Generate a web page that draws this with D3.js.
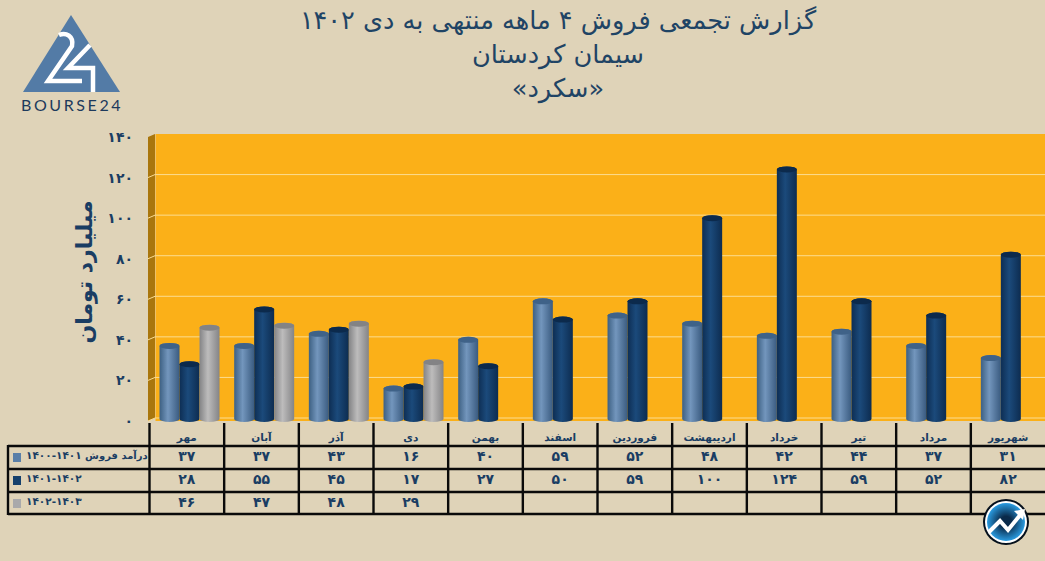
<!DOCTYPE html>
<html lang="fa">

<head>
    <meta charset="UTF-8">
    <title>Sales</title>
    <script src="https://d3js.org/d3.v7.min.js"></script>
    <style>
        html, body { margin: 0; padding: 0; background: #dfd3b8; overflow: hidden; }
        svg { display: block; }
        text { font-family: "DejaVu Sans", sans-serif; fill: #1a3d63; }
        .title { font-size: 25.6px; text-anchor: middle; fill: #1f4465; }
        .cell { font-size: 14px; font-weight: bold; text-anchor: middle; }
        .month { font-size: 10.5px; font-weight: bold; text-anchor: middle; }
        .tick text { font-size: 14px; font-weight: bold; font-family: "DejaVu Sans", sans-serif; fill: #1a3d63; }
    </style>
</head>

<body>
    <script>
        var months = ["مهر", "آبان", "آذر", "دی", "بهمن", "اسفند", "فروردین", "اردیبهشت", "خرداد", "تیر", "مرداد", "شهریور"];
        var sales1 = [37, 37, 43, 16, 40, 59, 52, 48, 42, 44, 37, 31];
        var sales2 = [28, 55, 45, 17, 27, 50, 59, 100, 124, 59, 52, 82];
        var sales3 = [46, 47, 48, 29, null, null, null, null, null, null, null, null];
        var seriesPrefix = ["درآمد فروش ", "", ""];
        var seriesLabels = ["۱۴۰۱-۱۴۰۰", "۱۴۰۱-۱۴۰۲", "۱۴۰۲-۱۴۰۳"];
        var titleLines = ["گزارش تجمعی فروش ۴ ماهه منتهی به دی ۱۴۰۲", "سیمان کردستان", "«سکرد»"];
        var yTicks = [0, 20, 40, 60, 80, 100, 120, 140];

        var allSeries = [sales1, sales2, sales3];
        var legendColors = ["#5a7fa8", "#15406c", "#a9a9ab"];
        var gradStops = [
            ["#436689", "#7396bd", "#3a5b80"],
            ["#0f3158", "#1b4a7b", "#0d2c50"],
            ["#8a8a8c", "#bdbcbc", "#848486"]
        ];
        var topColors = ["#3f6288", "#0c2a4c", "#838385"];

        function fa(v) {
            return String(v).replace(/\d/g, function(d) { return "۰۱۲۳۴۵۶۷۸۹"[d]; });
        }

        var svg = d3.select("body").append("svg").attr("width", 1045).attr("height", 561);
        var defs = svg.append("defs");

        // depth of the fake 3d box
        var depthX = 7, depthY = 3;

        var x = d3.scaleBand().domain(months).range([149.5, 1045.5]);
        var y = d3.scaleLinear().domain([0, 140]).range([418, 134]);
        var slot = d3.scaleBand().domain([0, 1, 2]).range([10, 70]);

        // title
        svg.append("g").selectAll("text").data(titleLines).enter().append("text")
            .attr("class", "title")
            .attr("x", 558)
            .attr("y", function(d, i) { return 29 + i * 34; })
            .text(function(d) { return d; });

        // back wall, side wall, floor
        svg.append("rect").attr("x", x.range()[0] + depthX - 1).attr("y", y(140))
            .attr("width", 1045 - x.range()[0]).attr("height", y(0) - y(140) + depthY)
            .style("fill", "#fbb018");
        svg.append("path")
            .attr("d", "M148," + (y(140) + depthY) + "L155," + y(140) + "V" + y(0) + "L148," + (y(0) + depthY) + "Z")
            .style("fill", "#a9760d");

        // grid lines on the walls
        var grid = svg.append("g").selectAll("path").data(yTicks.slice(0, -1)).enter().append("path")
            .attr("d", function(d) {
                return "M148," + (y(d) + depthY) + "L155," + y(d) + "H1045";
            })
            .style("fill", "none").style("stroke", "#fbdc90").style("stroke-width", 1);

        // y axis
        var yAxis = d3.axisLeft(y).tickValues(yTicks).tickSize(0).tickFormat(fa);
        svg.append("g").attr("transform", "translate(136," + depthY + ")").call(yAxis)
            .call(function(g) { g.select(".domain").remove(); });

        svg.append("text")
            .attr("transform", "translate(92,272) rotate(-90)")
            .attr("text-anchor", "middle")
            .style("font-size", "22px").style("font-weight", "bold")
            .text("میلیارد تومان");

        // cylinders
        allSeries.forEach(function(values, s) {
            var grad = defs.append("linearGradient").attr("id", "cyl" + s);
            gradStops[s].forEach(function(c, i) {
                grad.append("stop").attr("offset", ["5%", "42%", "100%"][i]).attr("stop-color", c);
            });
            var g = svg.append("g");
            var bars = values.map(function(v, i) { return { v: v, m: months[i] }; })
                .filter(function(d) { return d.v !== null; });
            var w = slot.bandwidth();
            g.selectAll("path").data(bars).enter().append("path")
                .attr("d", function(d) {
                    var left = x(d.m) + slot(s), top = y(d.v) + depthY, bottom = y(0) + depthY - 2;
                    return "M" + left + "," + top + "A" + (w / 2) + ",3 0 0 1 " + (left + w) + "," + top +
                        "V" + bottom + "A" + (w / 2) + ",3 0 0 1 " + left + "," + bottom + "Z";
                })
                .style("fill", "url(#cyl" + s + ")");
            g.selectAll("ellipse").data(bars).enter().append("ellipse")
                .attr("cx", function(d) { return x(d.m) + slot(s) + w / 2; })
                .attr("cy", function(d) { return y(d.v) + depthY; })
                .attr("rx", w / 2).attr("ry", 3)
                .style("fill", topColors[s]);
        });

        // table
        var rowLines = [446, 469, 492, 514];
        var table = svg.append("g");
        table.selectAll("line.h").data(rowLines).enter().append("line")
            .attr("x1", 8).attr("x2", 1045)
            .attr("y1", function(d) { return d; }).attr("y2", function(d) { return d; });
        table.selectAll("line.v").data(months).enter().append("line")
            .attr("x1", function(d) { return x(d); }).attr("x2", function(d) { return x(d); })
            .attr("y1", 423).attr("y2", 514);
        table.append("line").attr("x1", 8).attr("x2", 8).attr("y1", 445).attr("y2", 515);
        table.selectAll("line").style("stroke", "#0a0a0a").style("stroke-width", 2.4);

        svg.append("g").selectAll("text").data(months).enter().append("text")
            .attr("class", "month")
            .attr("x", function(d) { return x(d) + x.bandwidth() / 2; })
            .attr("y", 441)
            .text(function(d) { return d; });

        allSeries.forEach(function(values, s) {
            var rowY = rowLines[s] + 15;
            svg.append("g").selectAll("text").data(values).enter().append("text")
                .attr("class", "cell")
                .attr("x", function(d, i) { return x(months[i]) + x.bandwidth() / 2; })
                .attr("y", rowY)
                .text(function(d) { return d === null ? "" : fa(d); });

            svg.append("rect").attr("x", 13).attr("y", rowLines[s] + 7)
                .attr("width", 8).attr("height", 9).style("fill", legendColors[s]);
            var label = svg.append("text").attr("x", 26).attr("y", rowLines[s] + 13)
                .style("font-weight", "bold");
            label.append("tspan").style("font-size", "10px").text(seriesPrefix[s]);
            label.append("tspan").style("font-size", "10.5px").text(seriesLabels[s]);
        });

        // logo
        var logo = svg.append("g");
        logo.append("path").attr("d", "M71,15L120,92H23Z").style("fill", "#537ba6");
        logo.append("path")
            .attr("d", "M59,35C66,32 74,36 72,46L48,81H82M90,45L68,68H93V92")
            .style("fill", "none").style("stroke", "#fff").style("stroke-width", 4.5);
        logo.append("text").attr("x", 21).attr("y", 111)
            .style("font-family", "Lato").style("font-size", "16px").style("letter-spacing", "2.6px")
            .style("fill", "#1d3a5c").text("BOURSE24");

        // badge
        var badgeGrad = defs.append("radialGradient").attr("id", "badge");
        badgeGrad.append("stop").attr("offset", "30%").attr("stop-color", "#0a2a4a");
        badgeGrad.append("stop").attr("offset", "100%").attr("stop-color", "#2a9be0");
        var badge = svg.append("g").attr("transform", "translate(1006,522)");
        badge.append("circle").attr("r", 23).style("fill", "#05101c");
        badge.append("circle").attr("r", 21).style("fill", "#fff");
        badge.append("circle").attr("r", 19).style("fill", "url(#badge)");
        badge.append("path").attr("d", "M-17,10L-6,-1L2,8L15,-8")
            .style("fill", "none").style("stroke", "#fff").style("stroke-width", 4);
        badge.append("path").attr("d", "M8,-11L19,-13L17,-2Z").style("fill", "#fff");
    </script>
</body>

</html>
